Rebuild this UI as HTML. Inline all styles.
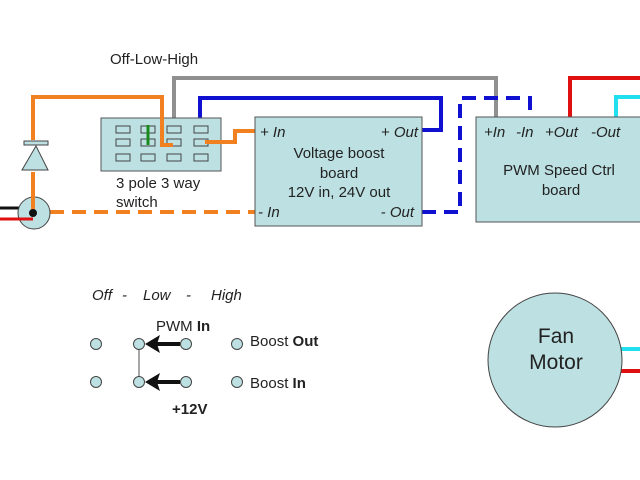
<!DOCTYPE html>
<html><head><meta charset="utf-8"><style>
body{margin:0;background:#fff}
svg{display:block}
text{font-family:"Liberation Sans",Arial,sans-serif;fill:#222}
</style></head><body>
<svg width="640" height="480" viewBox="0 0 640 480">
<rect width="640" height="480" fill="#fff"/>
<text x="110" y="64" font-size="15">Off-Low-High</text>
<polyline points="174,125 174,78 496,78 496,117" fill="none" stroke="#909090" stroke-width="4"/>
<polyline points="200,128 200,98 441,98 441,130 422,130" fill="none" stroke="#1010d0" stroke-width="4"/>
<polyline points="422,212 460,212 460,98 530,98 530,117" fill="none" stroke="#1010d0" stroke-width="4" stroke-dasharray="14,8"/>
<polyline points="570,117 570,78 640,78" fill="none" stroke="#e01010" stroke-width="4"/>
<polyline points="616,117 616,97 640,97" fill="none" stroke="#20e0f0" stroke-width="4"/>
<rect x="101" y="118" width="120" height="53" fill="#bde0e2" stroke="#555" stroke-width="1"/>
<g fill="#bde0e2" stroke="#444" stroke-width="1">
<rect x="116" y="126" width="14" height="7"/><rect x="141" y="126" width="14" height="7"/><rect x="167" y="126" width="14" height="7"/><rect x="194" y="126" width="14" height="7"/>
<rect x="116" y="139" width="14" height="7"/><rect x="141" y="139" width="14" height="7"/><rect x="167" y="139" width="14" height="7"/><rect x="194" y="139" width="14" height="7"/>
<rect x="116" y="154" width="14" height="7"/><rect x="141" y="154" width="14" height="7"/><rect x="167" y="154" width="14" height="7"/><rect x="194" y="154" width="14" height="7"/>
</g>
<line x1="148" y1="125" x2="148" y2="145" stroke="#1a8a1a" stroke-width="3"/>
<text x="116" y="188" font-size="15">3 pole 3 way</text>
<text x="116" y="207" font-size="15">switch</text>
<polyline points="33,140 33,97 162,97 162,145 173,145" fill="none" stroke="#f08020" stroke-width="4"/>
<polyline points="205,142 235,142 235,131 257,131" fill="none" stroke="#f08020" stroke-width="4"/>
<line x1="33" y1="172" x2="33" y2="213" stroke="#f08020" stroke-width="4"/>
<line x1="50" y1="212" x2="255" y2="212" stroke="#f08020" stroke-width="4" stroke-dasharray="14,8"/>
<line x1="255" y1="212" x2="262" y2="212" stroke="#f08020" stroke-width="4"/>
<rect x="24" y="141" width="24" height="4" fill="#bde0e2" stroke="#444" stroke-width="1"/>
<polygon points="36,146 22,170 48,170" fill="#bde0e2" stroke="#444" stroke-width="1"/>
<line x1="0" y1="208" x2="32" y2="208" stroke="#111" stroke-width="3"/>
<circle cx="34" cy="213" r="16" fill="#bde0e2" stroke="#444" stroke-width="1"/>
<line x1="33" y1="195" x2="33" y2="213" stroke="#f08020" stroke-width="4"/>
<line x1="0" y1="219" x2="33" y2="219" stroke="#e01010" stroke-width="3"/>
<circle cx="33" cy="213" r="4" fill="#111"/>
<rect x="255" y="117" width="167" height="109" fill="#bde0e2" stroke="#555" stroke-width="1"/>
<text x="260" y="137" font-size="15" font-style="italic">+ In</text>
<text x="418" y="137" font-size="15" font-style="italic" text-anchor="end">+ Out</text>
<text x="339" y="158" font-size="15" text-anchor="middle">Voltage boost</text>
<text x="339" y="178" font-size="15" text-anchor="middle">board</text>
<text x="339" y="197" font-size="15" text-anchor="middle">12V in, 24V out</text>
<text x="258" y="217" font-size="15" font-style="italic">- In</text>
<text x="414" y="217" font-size="15" font-style="italic" text-anchor="end">- Out</text>
<rect x="476" y="117" width="170" height="105" fill="#bde0e2" stroke="#555" stroke-width="1"/>
<g font-size="15" font-style="italic">
<text x="484" y="137">+In</text><text x="516" y="137">-In</text><text x="545" y="137">+Out</text><text x="591" y="137">-Out</text>
</g>
<text x="559" y="175" font-size="15" text-anchor="middle">PWM Speed Ctrl</text>
<text x="561" y="195" font-size="15" text-anchor="middle">board</text>
<line x1="620" y1="349" x2="640" y2="349" stroke="#20e0f0" stroke-width="4"/>
<line x1="620" y1="371" x2="640" y2="371" stroke="#e01010" stroke-width="4"/>
<circle cx="555" cy="360" r="67" fill="#bde0e2" stroke="#444" stroke-width="1"/>
<text x="556" y="343" font-size="21" text-anchor="middle">Fan</text>
<text x="556" y="369" font-size="21" text-anchor="middle">Motor</text>
<g font-size="15" font-style="italic">
<text x="92" y="300">Off</text><text x="122" y="300">-</text><text x="143" y="300">Low</text><text x="186" y="300">-</text><text x="211" y="300">High</text>
</g>
<line x1="139" y1="344" x2="139" y2="382" stroke="#888" stroke-width="1.5"/>
<g fill="#bde0e2" stroke="#444" stroke-width="1">
<circle cx="96" cy="344" r="5.5"/><circle cx="139" cy="344" r="5.5"/><circle cx="186" cy="344" r="5.5"/><circle cx="237" cy="344" r="5.5"/>
<circle cx="96" cy="382" r="5.5"/><circle cx="139" cy="382" r="5.5"/><circle cx="186" cy="382" r="5.5"/><circle cx="237" cy="382" r="5.5"/>
</g>
<g stroke="#111" stroke-width="4">
<line x1="180" y1="344" x2="156" y2="344"/><line x1="180" y1="382" x2="156" y2="382"/>
</g>
<polygon points="145,344 160,335 157,344 160,353" fill="#111"/>
<polygon points="145,382 160,373 157,382 160,391" fill="#111"/>
<text x="156" y="331" font-size="15">PWM <tspan font-weight="bold">In</tspan></text>
<text x="250" y="346" font-size="15">Boost <tspan font-weight="bold">Out</tspan></text>
<text x="250" y="388" font-size="15">Boost <tspan font-weight="bold">In</tspan></text>
<text x="172" y="414" font-size="15" font-weight="bold">+12V</text>
</svg>
</body></html>
